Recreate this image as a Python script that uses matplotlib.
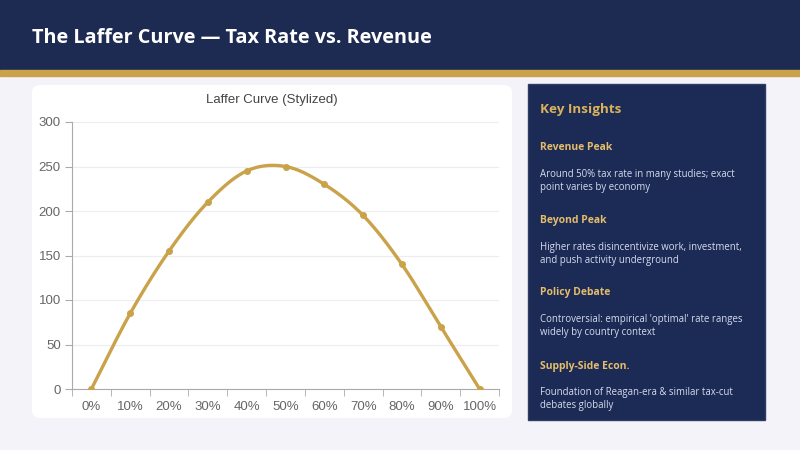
import numpy as np
import matplotlib.pyplot as plt
from matplotlib.patches import FancyBboxPatch, Rectangle

# data
tax_labels = ['0%', '10%', '20%', '30%', '40%', '50%', '60%', '70%', '80%', '90%', '100%']
revenue = [0, 85, 155, 210, 245, 250, 230, 195, 140, 70, 0]

insights = [
    ('Revenue Peak', 'Around 50% tax rate in many studies; exact\npoint varies by economy'),
    ('Beyond Peak', 'Higher rates disincentivize work, investment,\nand push activity underground'),
    ('Policy Debate', "Controversial: empirical 'optimal' rate ranges\nwidely by country context"),
    ('Supply-Side Econ.', 'Foundation of Reagan-era & similar tax-cut\ndebates globally'),
]

NAVY = '#1d2a52'
GOLD = '#c9a24a'
BG = '#f4f3fa'


def smooth(x, y, n=20):
    # catmull-rom through the points, just for drawing the curve
    x = np.asarray(x, float)
    y = np.asarray(y, float)
    px = np.concatenate([[2 * x[0] - x[1]], x, [2 * x[-1] - x[-2]]])
    py = np.concatenate([[2 * y[0] - y[1]], y, [2 * y[-1] - y[-2]]])
    xs, ys = [], []
    t = np.linspace(0, 1, n, endpoint=False)
    for i in range(1, len(px) - 2):
        for p, out in ((px, xs), (py, ys)):
            p0, p1, p2, p3 = p[i - 1], p[i], p[i + 1], p[i + 2]
            out.extend(0.5 * (2 * p1 + (-p0 + p2) * t + (2 * p0 - 5 * p1 + 4 * p2 - p3) * t ** 2
                              + (-p0 + 3 * p1 - 3 * p2 + p3) * t ** 3))
    xs.append(x[-1])
    ys.append(y[-1])
    return np.array(xs), np.array(ys)


fig = plt.figure(figsize=(8, 4.5), dpi=100)
fig.patch.set_facecolor(BG)

# background layer in pixel coordinates
bg = fig.add_axes([0, 0, 1, 1])
bg.set_xlim(0, 800)
bg.set_ylim(450, 0)
bg.axis('off')
bg.add_patch(Rectangle((0, 0), 800, 70, color=NAVY))
bg.add_patch(Rectangle((0, 70), 800, 6, color=GOLD))
bg.add_patch(FancyBboxPatch((32, 85), 480, 333, boxstyle='round,pad=0,rounding_size=8',
                            fc='white', ec='none'))
bg.add_patch(Rectangle((528, 84), 237, 336, fc='#1c2a56', ec='#2e3c66', lw=1))
bg.text(32, 38, 'The Laffer Curve \u2014 Tax Rate vs. Revenue', color='white', fontsize=14.3,
        fontweight='bold', family='Open Sans', va='center', ha='left')
bg.text(272, 100, 'Laffer Curve (Stylized)', color='#444444', fontsize=9.5,
        family='Liberation Sans', ha='center', va='center')

bg.text(540, 110, 'Key Insights', color='#d9b25a', fontsize=9.7, fontweight='bold',
        family='Open Sans', va='center')
head_y = [148, 221, 293, 366]
for (head, body), hy in zip(insights, head_y):
    bg.text(540, hy, head, color='#e3bd6a', fontsize=7.5, fontweight='bold',
            family='Open Sans', va='center')
    bg.text(540, hy + 21, body, color='#d6dcee', fontsize=6.9, family='Open Sans',
            va='top', linespacing=1.3)

# the chart
ax = fig.add_axes([72 / 800, (450 - 389) / 450, (499 - 72) / 800, (389 - 122) / 450])
ax.set_facecolor('white')
xi = np.arange(len(tax_labels))
sx, sy = smooth(xi, revenue)
ax.plot(sx, sy, color=GOLD, lw=2.4, solid_capstyle='round', zorder=3)
ax.plot(xi, revenue, 'o', color=GOLD, ms=4, zorder=4)

ax.set_xlim(-0.5, len(tax_labels) - 0.5)
ax.set_ylim(0, 300)
ax.set_yticks(range(0, 301, 50))
ax.set_xticks(xi)
ax.set_xticklabels(tax_labels)
ax.set_xticks(np.arange(-0.5, len(tax_labels)), minor=True)
ax.tick_params(axis='x', which='major', length=0, pad=9)
ax.tick_params(axis='x', which='minor', length=5, color='#aaaaaa')
ax.tick_params(axis='y', length=5, color='#aaaaaa', pad=3)
ax.tick_params(labelsize=9.5, labelcolor='#666666')
for lab in ax.get_xticklabels() + ax.get_yticklabels():
    lab.set_family('Liberation Sans')
ax.grid(axis='y', color='#ececf2', lw=0.8)
ax.set_axisbelow(True)
for s in ['top', 'right']:
    ax.spines[s].set_visible(False)
for s in ['left', 'bottom']:
    ax.spines[s].set_color('#aaaaaa')

fig.savefig('out.png', dpi=100, facecolor=fig.get_facecolor())
